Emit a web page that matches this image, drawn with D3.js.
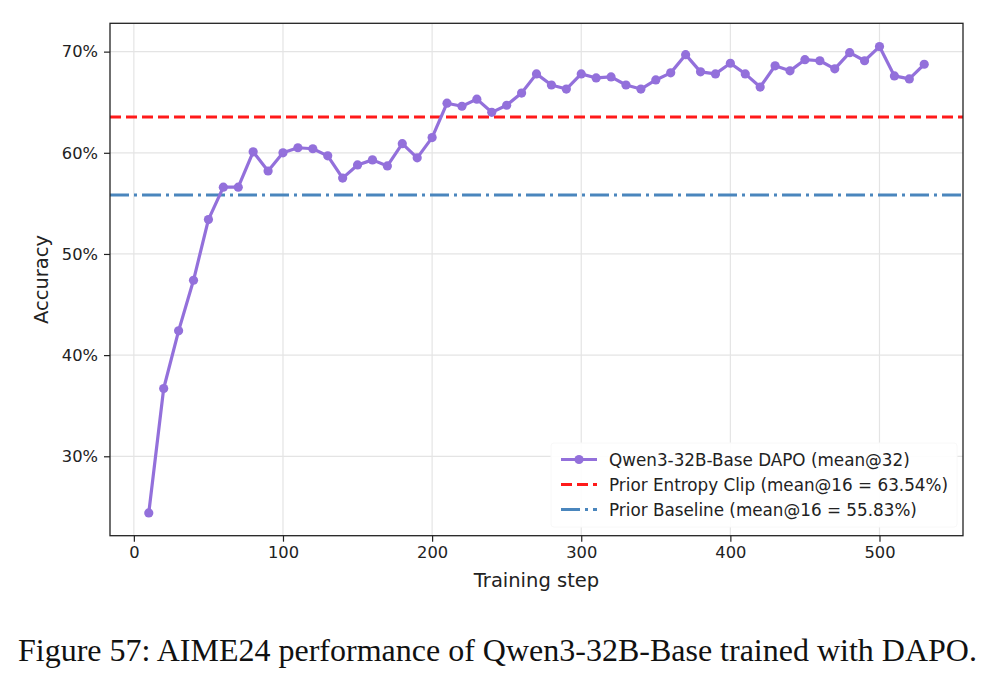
<!DOCTYPE html>
<html>
<head>
<meta charset="utf-8">
<script src="https://cdn.jsdelivr.net/npm/d3@7"></script>
<style>
  body { margin: 0; background: #fff; }
  svg { display: block; }
</style>
</head>
<body>
<svg width="994" height="686"></svg>
<script>
// training steps and accuracy (%)
var steps = [10, 20, 30, 40, 50, 60, 70, 80, 90, 100,
             110, 120, 130, 140, 150, 160, 170, 180, 190, 200,
             210, 220, 230, 240, 250, 260, 270, 280, 290, 300,
             310, 320, 330, 340, 350, 360, 370, 380, 390, 400,
             410, 420, 430, 440, 450, 460, 470, 480, 490, 500,
             510, 520, 530];
var accuracy = [24.4, 36.7, 42.4, 47.4, 53.4, 56.6, 56.6, 60.1, 58.2, 60.0,
                60.5, 60.4, 59.7, 57.5, 58.8, 59.3, 58.7, 60.9, 59.5, 61.5,
                64.9, 64.6, 65.3, 64.0, 64.7, 65.9, 67.8, 66.7, 66.3, 67.8,
                67.4, 67.5, 66.7, 66.3, 67.2, 67.9, 69.7, 68.0, 67.8, 68.85,
                67.8, 66.5, 68.6, 68.1, 69.2, 69.1, 68.3, 69.9, 69.1, 70.5,
                67.6, 67.3, 68.75];
var entropyClip = 63.54;
var baseline = 55.83;
var xTicks = [0, 100, 200, 300, 400, 500];
var yTicks = [30, 40, 50, 60, 70];
var legendLabels = ["Qwen3-32B-Base DAPO (mean@32)",
                    "Prior Entropy Clip (mean@16 = 63.54%)",
                    "Prior Baseline (mean@16 = 55.83%)"];

var plotL = 110, plotR = 963, plotT = 23.3, plotB = 535.7;
var svg = d3.select("svg");
var font = "DejaVu Sans, sans-serif";

var xScale = d3.scaleLinear().domain([-16, 556]).range([plotL, plotR]);
var yScale = d3.scaleLinear().domain([22.15, 72.8]).range([plotB, plotT]);

// grid
var grid = svg.append("g");
grid.selectAll(".gx").data(xTicks).enter().append("line")
   .attr("x1", function(d) { return xScale(d); })
   .attr("x2", function(d) { return xScale(d); })
   .attr("y1", plotT).attr("y2", plotB)
   .attr("stroke", "#e4e4e4").attr("stroke-width", 1.2);
grid.selectAll(".gy").data(yTicks).enter().append("line")
   .attr("y1", function(d) { return yScale(d); })
   .attr("y2", function(d) { return yScale(d); })
   .attr("x1", plotL).attr("x2", plotR)
   .attr("stroke", "#e4e4e4").attr("stroke-width", 1.2);

// reference lines
svg.append("line")
   .attr("x1", plotL).attr("x2", plotR)
   .attr("y1", yScale(entropyClip)).attr("y2", yScale(entropyClip))
   .attr("stroke", "#ff1a1a").attr("stroke-width", 3)
   .attr("stroke-dasharray", "11,5");
svg.append("line")
   .attr("x1", plotL).attr("x2", plotR)
   .attr("y1", yScale(baseline)).attr("y2", yScale(baseline))
   .attr("stroke", "#4a86bd").attr("stroke-width", 3)
   .attr("stroke-dasharray", "19,5,3,5");

// main series
var line = d3.line()
   .x(function(d, i) { return xScale(steps[i]); })
   .y(function(d) { return yScale(d); });
svg.append("path")
   .datum(accuracy)
   .attr("d", line)
   .attr("fill", "none")
   .attr("stroke", "#9370DB").attr("stroke-width", 3.2)
   .attr("stroke-linejoin", "round");
svg.append("g").selectAll("circle")
   .data(accuracy).enter().append("circle")
   .attr("cx", function(d, i) { return xScale(steps[i]); })
   .attr("cy", function(d) { return yScale(d); })
   .attr("r", 4.6)
   .attr("fill", "#9370DB");

// axes
var xAxis = d3.axisBottom(xScale).tickValues(xTicks).tickSize(6).tickPadding(5);
var yAxis = d3.axisLeft(yScale).tickValues(yTicks).tickSize(6).tickPadding(6)
   .tickFormat(function(d) { return d + "%"; });

svg.append("g").attr("transform", "translate(0," + plotB + ")").call(xAxis)
   .call(function(g) { g.select(".domain").remove(); });
svg.append("g").attr("transform", "translate(" + plotL + ",0)").call(yAxis)
   .call(function(g) { g.select(".domain").remove(); });
svg.selectAll(".tick text").attr("font-family", font).attr("font-size", 16.3).attr("fill", "#222");
svg.selectAll(".tick line").attr("stroke", "#222").attr("stroke-width", 1.2);

// frame
svg.append("rect")
   .attr("x", plotL).attr("y", plotT)
   .attr("width", plotR - plotL).attr("height", plotB - plotT)
   .attr("fill", "none").attr("stroke", "#222").attr("stroke-width", 1.3);

// axis labels
svg.append("text")
   .attr("x", (plotL + plotR) / 2).attr("y", 587)
   .attr("text-anchor", "middle")
   .attr("font-family", font).attr("font-size", 19.5).attr("fill", "#222")
   .text("Training step");
svg.append("text")
   .attr("transform", "translate(48," + ((plotT + plotB) / 2) + ") rotate(-90)")
   .attr("text-anchor", "middle")
   .attr("font-family", font).attr("font-size", 19.5).attr("fill", "#222")
   .text("Accuracy");

// legend
var lg = svg.append("g");
lg.append("rect")
   .attr("x", 551).attr("y", 443).attr("width", 406).attr("height", 84)
   .attr("rx", 3)
   .attr("fill", "#fff").attr("fill-opacity", 0.9)
   .attr("stroke", "#f8f8f8");
var rowY = [459.5, 484.5, 509.5];
lg.append("line").attr("x1", 561).attr("x2", 597).attr("y1", rowY[0]).attr("y2", rowY[0])
   .attr("stroke", "#9370DB").attr("stroke-width", 3.2);
lg.append("circle").attr("cx", 579).attr("cy", rowY[0]).attr("r", 4.6).attr("fill", "#9370DB");
lg.append("line").attr("x1", 561).attr("x2", 597).attr("y1", rowY[1]).attr("y2", rowY[1])
   .attr("stroke", "#ff1a1a").attr("stroke-width", 3).attr("stroke-dasharray", "11,5");
lg.append("line").attr("x1", 561).attr("x2", 597).attr("y1", rowY[2]).attr("y2", rowY[2])
   .attr("stroke", "#4a86bd").attr("stroke-width", 3).attr("stroke-dasharray", "19,5,3,5");
lg.selectAll("text").data(legendLabels).enter().append("text")
   .attr("x", 609)
   .attr("y", function(d, i) { return rowY[i] + 6; })
   .attr("font-family", font).attr("font-size", 16.8).attr("fill", "#222")
   .text(function(d) { return d; });

// caption
svg.append("text")
   .attr("x", 18).attr("y", 661)
   .attr("font-family", "Liberation Serif, serif").attr("font-size", 31)
   .attr("textLength", 959).attr("lengthAdjust", "spacingAndGlyphs")
   .attr("fill", "#111")
   .text("Figure 57: AIME24 performance of Qwen3-32B-Base trained with DAPO.");
</script>
</body>
</html>
